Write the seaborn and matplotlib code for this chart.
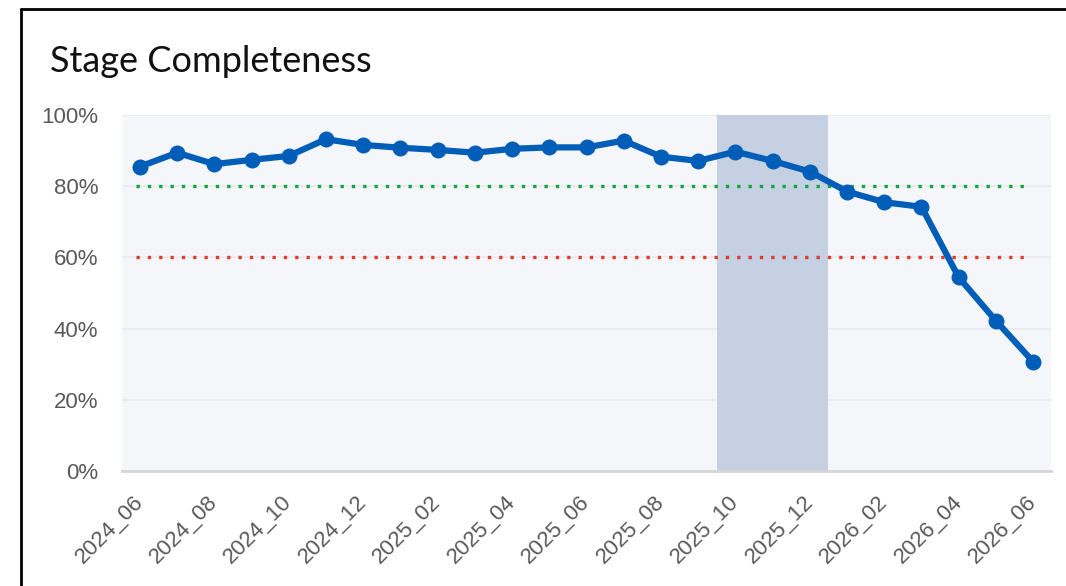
import matplotlib
matplotlib.use("Agg")
import matplotlib.pyplot as plt
import seaborn as sns
import pandas as pd
import numpy as np
from matplotlib.lines import Line2D

months = ["2024_06", "2024_07", "2024_08", "2024_09", "2024_10", "2024_11", "2024_12",
          "2025_01", "2025_02", "2025_03", "2025_04", "2025_05", "2025_06", "2025_07",
          "2025_08", "2025_09", "2025_10", "2025_11", "2025_12", "2026_01", "2026_02",
          "2026_03", "2026_04", "2026_05", "2026_06"]
completeness = [85.5, 89.4, 86.2, 87.4, 88.5, 93.2, 91.6, 90.8, 90.2, 89.4, 90.5, 90.9,
                90.9, 92.8, 88.3, 87.1, 89.7, 87.1, 84.1, 78.5, 75.5, 74.2, 54.4, 42.2, 30.7]
target_good = 80
target_bad = 60
shaded_months = ["2025_10", "2025_11", "2025_12"]
yticks = [0, 20, 40, 60, 80, 100]

sns.set_theme(style="white")
plt.rcParams['font.family'] = ['Liberation Sans', 'DejaVu Sans']

df = pd.DataFrame({"month": months, "value": completeness})
df["idx"] = np.arange(len(df))

W, H = 1066, 586
fig = plt.figure(figsize=(W / 100, H / 100), dpi=100)
ax = fig.add_axes([122 / W, 1 - 471 / H, (1051 - 122) / W, (471 - 115) / H])
ax.set_facecolor("#f4f6fa")

# shaded band
s0 = months.index(shaded_months[0]) - 0.5
s1 = months.index(shaded_months[-1]) + 0.5
ax.axvspan(s0, s1, color="#c5d0e2", zorder=1, lw=0)

# grid
for yv in yticks[1:]:
    ax.axhline(yv, color="#e9eaec", lw=1.2, zorder=0.5)

# threshold lines
n = len(months)
ax.hlines(target_good, -0.1, n - 1.15, colors="#12a640", linestyles=(0, (1, 2.4)), lw=2.4, zorder=2)
ax.hlines(target_bad, -0.1, n - 1.15, colors="#e23a2f", linestyles=(0, (1, 2.4)), lw=2.4, zorder=2)

sns.lineplot(data=df, x="idx", y="value", ax=ax, color="#005eb8", lw=4.5,
             marker="o", markersize=11.5, markeredgewidth=0, zorder=3)

ax.set_xlim(-0.48, n - 1 + 0.48)
ax.set_ylim(0, 100)
ax.set_yticks(yticks)
ax.set_yticklabels([f"{v}%" for v in yticks])
ax.set_xticks(df["idx"][::2])
ax.set_xticklabels(df["month"][::2], rotation=45, ha="right", rotation_mode="anchor")
ax.tick_params(axis="y", length=0, pad=17, labelsize=16, labelcolor="#595959")
ax.tick_params(axis="x", length=0, pad=20, labelsize=16, labelcolor="#595959")
for lab in ax.get_xticklabels():
    lab.set_va("center")
ax.set_xlabel("")
ax.set_ylabel("")
for s in ["top", "right", "left"]:
    ax.spines[s].set_visible(False)
ax.spines["bottom"].set_color("#d6d6d6")
ax.spines["bottom"].set_linewidth(2)

fig.text(50 / W, 1 - 62 / H, "Stage Completeness", fontsize=26, family=["Lato", "DejaVu Sans"],
         ha="left", va="center", color="#111111")

# outer frame
fig.add_artist(Line2D([21 / W, 21 / W], [0, 1 - 9 / H], color="black", lw=2, transform=fig.transFigure))
fig.add_artist(Line2D([21 / W, 1], [1 - 9 / H, 1 - 9 / H], color="black", lw=2, transform=fig.transFigure))

fig.savefig("out.png", dpi=100, facecolor="white")
